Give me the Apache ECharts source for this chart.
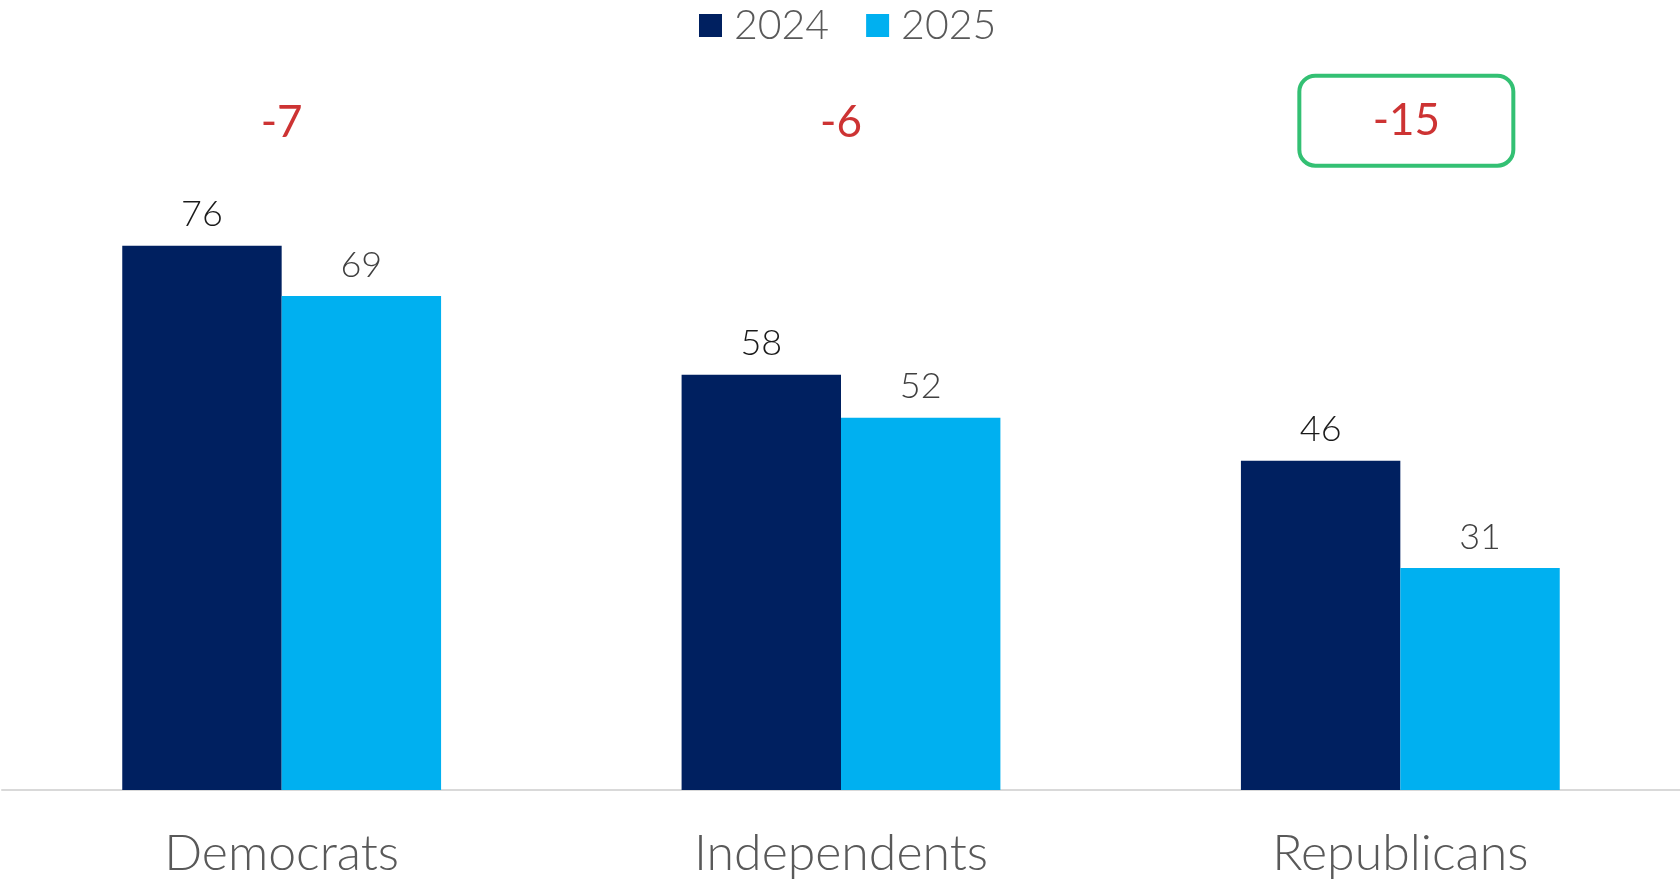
<!DOCTYPE html>
<html>
<head>
<meta charset="utf-8">
<title>2024 vs 2025</title>
<script src="https://cdn.jsdelivr.net/npm/echarts@6/dist/echarts.min.js"></script>
<style>
  html, body { margin: 0; padding: 0; background: #fff; }
  #main { width: 1680px; height: 879px; }
</style>
</head>
<body>
<div id="main"></div>
<script>
    // categories and values
    var categories = ['Democrats', 'Independents', 'Republicans'];
    var values2024 = [76, 58, 46];
    var values2025 = [69, 52, 31];
    var changes = ['-7', '-6', '-15'];
    var highlighted = 'Republicans';

    var FONT = 'Lato, "Noto Sans", sans-serif';
    var NOTE_Y = 93.2; // height of the change notes, in axis units

    var myChart = echarts.init(document.getElementById('main'));

    var noteData = categories.map(function (c, i) {
        var item = { value: [c, NOTE_Y], name: changes[i] };
        if (c === highlighted) {
            item.label = {
                borderColor: '#00B050',
                borderWidth: 4,
                borderRadius: 16,
                width: 214,
                height: 90,
                lineHeight: 90,
                offset: [6, -2],
                align: 'center',
                verticalAlign: 'middle'
            };
        }
        return item;
    });

    var option = {
        animation: false,
        textStyle: { fontFamily: FONT },
        legend: {
            top: 0,
            left: 694,
            itemWidth: 23,
            itemHeight: 23,
            itemGap: 37,
            icon: 'rect',
            textStyle: { fontSize: 41, fontWeight: 300, color: '#595959', fontFamily: FONT, padding: [0, 0, 0, 7] },
            data: ['2024', '2025']
        },
        grid: { left: 2, right: 0, top: 74, bottom: 89 },
        xAxis: {
            type: 'category',
            data: categories,
            axisLine: { lineStyle: { color: '#d9d9d9', width: 2 } },
            axisTick: { show: false },
            axisLabel: { fontSize: 50, fontWeight: 300, color: '#595959', margin: 39, fontFamily: FONT }
        },
        yAxis: {
            type: 'value',
            min: 0,
            max: 100,
            show: false,
            splitLine: { show: false }
        },
        series: [
            {
                name: '2024',
                type: 'bar',
                data: values2024,
                barWidth: '28.5%',
                barGap: '0%',
                itemStyle: { color: '#002060' },
                label: { show: true, position: 'top', distance: 13, fontSize: 36, fontWeight: 300, color: '#1a1a1a', fontFamily: FONT }
            },
            {
                name: '2025',
                type: 'bar',
                data: values2025,
                barWidth: '28.5%',
                itemStyle: { color: '#00B0F0' },
                label: { show: true, position: 'top', distance: 13, fontSize: 36, fontWeight: 300, color: '#404040', fontFamily: FONT }
            },
            {
                name: 'change',
                type: 'scatter',
                data: noteData,
                symbolSize: 0,
                silent: true,
                label: {
                    show: true,
                    position: 'inside',
                    formatter: '{b}',
                    fontSize: 44,
                    color: '#C00000',
                    fontFamily: FONT
                }
            }
        ]
    };

    myChart.setOption(option);
</script>
</body>
</html>
